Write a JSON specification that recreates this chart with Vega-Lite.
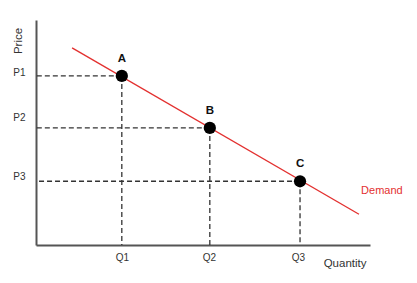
{
  "$schema": "https://vega.github.io/schema/vega-lite/v6.json",
  "width": 334,
  "height": 225,
  "autosize": {"type": "none"},
  "padding": {"left": 36, "top": 20, "right": 47, "bottom": 38},
  "background": "white",
  "config": {"view": {"stroke": null}, "font": "Liberation Sans"},
  "datasets": {
    "points": [
      {"point": "A", "quantity": 1.95, "price": 6.5},
      {"point": "B", "quantity": 3.95, "price": 4.5},
      {"point": "C", "quantity": 6.0, "price": 2.45}
    ],
    "demand": [
      {"quantity": 0.82, "price": 7.58},
      {"quantity": 7.34, "price": 1.18}
    ],
    "curveLabel": [
      {"label": "Demand", "quantity": 7.86, "price": 2.06}
    ]
  },
  "layer": [
    {
      "data": {"name": "points"},
      "mark": {"type": "rule", "stroke": "#333333", "strokeWidth": 1.3, "strokeDash": [5, 3]},
      "encoding": {
        "x": {
          "field": "quantity", "type": "quantitative",
          "scale": {"domain": [0, 7.59], "nice": false, "zero": false},
          "axis": {
            "values": [1.95, 3.93, 5.95],
            "labelExpr": "datum.value < 3 ? 'Q1' : datum.value < 5 ? 'Q2' : 'Q3'",
            "ticks": false, "tickSize": 0, "grid": false,
            "labelPadding": 7, "labelFontSize": 10, "labelColor": "#333333",
            "domainColor": "#555555", "domainWidth": 2,
            "title": "Quantity", "titleFontSize": 11.5, "titleFontWeight": "normal", "titleColor": "#333333",
            "titleAnchor": "end", "titleAlign": "right", "titleX": 330, "titleY": 21.5, "titleBaseline": "alphabetic"
          }
        },
        "x2": {"datum": 0},
        "y": {
          "field": "price", "type": "quantitative",
          "scale": {"domain": [0, 8.65], "nice": false, "zero": false},
          "axis": {
            "values": [6.65, 4.9, 2.62],
            "labelExpr": "datum.value > 6 ? 'P1' : datum.value > 4 ? 'P2' : 'P3'",
            "ticks": false, "tickSize": 0, "grid": false,
            "labelPadding": 11, "labelFontSize": 10, "labelColor": "#333333",
            "domainColor": "#555555", "domainWidth": 2,
            "title": "Price", "titleFontSize": 11.5, "titleFontWeight": "normal", "titleColor": "#333333",
            "titleAngle": -90, "titleAlign": "center", "titleBaseline": "middle", "titleX": -18, "titleY": 20.5
          }
        }
      }
    },
    {
      "data": {"name": "points"},
      "mark": {"type": "rule", "stroke": "#333333", "strokeWidth": 1.3, "strokeDash": [5, 3]},
      "encoding": {
        "x": {"field": "quantity", "type": "quantitative", "scale": {"domain": [0, 7.59], "nice": false, "zero": false}},
        "y": {"field": "price", "type": "quantitative", "scale": {"domain": [0, 8.65], "nice": false, "zero": false}},
        "y2": {"datum": 0}
      }
    },
    {
      "data": {"name": "demand"},
      "mark": {"type": "line", "stroke": "#e3302f", "strokeWidth": 1.3},
      "encoding": {
        "x": {"field": "quantity", "type": "quantitative", "scale": {"domain": [0, 7.59], "nice": false, "zero": false}},
        "y": {"field": "price", "type": "quantitative", "scale": {"domain": [0, 8.65], "nice": false, "zero": false}}
      }
    },
    {
      "data": {"name": "points"},
      "mark": {"type": "point", "filled": true, "color": "black", "opacity": 1, "size": 150},
      "encoding": {
        "x": {"field": "quantity", "type": "quantitative", "scale": {"domain": [0, 7.59], "nice": false, "zero": false}},
        "y": {"field": "price", "type": "quantitative", "scale": {"domain": [0, 8.65], "nice": false, "zero": false}}
      }
    },
    {
      "data": {"name": "points"},
      "mark": {"type": "text", "fontWeight": "bold", "fontSize": 11.5, "dy": -17, "color": "#111111"},
      "encoding": {
        "x": {"field": "quantity", "type": "quantitative", "scale": {"domain": [0, 7.59], "nice": false, "zero": false}},
        "y": {"field": "price", "type": "quantitative", "scale": {"domain": [0, 8.65], "nice": false, "zero": false}},
        "text": {"field": "point"}
      }
    },
    {
      "data": {"name": "curveLabel"},
      "mark": {"type": "text", "fontSize": 11, "color": "#e3302f"},
      "encoding": {
        "x": {"field": "quantity", "type": "quantitative", "scale": {"domain": [0, 7.59], "nice": false, "zero": false}},
        "y": {"field": "price", "type": "quantitative", "scale": {"domain": [0, 8.65], "nice": false, "zero": false}},
        "text": {"field": "label"}
      }
    }
  ]
}
